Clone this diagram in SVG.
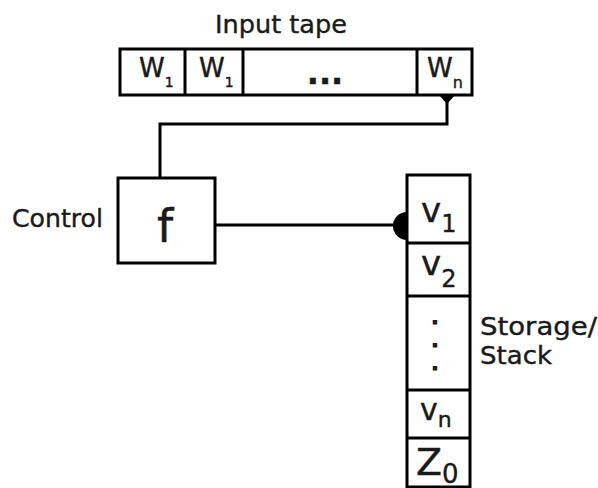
<svg xmlns="http://www.w3.org/2000/svg" width="598" height="488" viewBox="0 0 598 488">
<style>
.box{fill:#fff;stroke:#000;stroke-width:3}
.ln{fill:none;stroke:#000;stroke-width:3}
.t{font-family:"DejaVu Sans",sans-serif;fill:#1a1a1a;stroke:#1a1a1a;stroke-width:0.4}
.dot{font-family:"DejaVu Sans",sans-serif;font-weight:bold;font-size:18px;fill:#1a1a1a;stroke:#1a1a1a;stroke-width:1.2}
</style>
<rect width="598" height="488" fill="#fff"/>
<g id="connectors">
<path class="ln" d="M447,97 V124 H160 V178"/>
<polygon points="439,95 455,95 447,104" fill="#000"/>
<path class="ln" d="M215,225 H400"/>
<path d="M407,212 A14,14 0 0 0 407,240 Z" fill="#000"/>
</g>
<g id="input-tape">
<text class="t" x="281" y="33" font-size="25" text-anchor="middle" textLength="132" lengthAdjust="spacingAndGlyphs">Input tape</text>
<rect class="box" x="120" y="49" width="352" height="46"/>
<path class="ln" d="M185,49 V95 M243,49 V95 M417,49 V95"/>
<text class="t" x="139" y="77" font-size="26">W<tspan font-size="14" dy="10">1</tspan></text>
<text class="t" x="199" y="77" font-size="26">W<tspan font-size="14" dy="10">1</tspan></text>
<text class="t" x="325" y="84" font-size="32" font-weight="bold" text-anchor="middle">...</text>
<text class="t" x="427" y="77" font-size="26">W<tspan font-size="16" dy="11">n</tspan></text>
</g>
<g id="control">
<text class="t" x="12" y="227" font-size="25" textLength="91" lengthAdjust="spacingAndGlyphs">Control</text>
<rect class="box" x="118" y="178" width="97" height="85"/>
<text class="t" x="165" y="242" font-size="46" text-anchor="middle">f</text>
</g>
<g id="stack">
<rect class="box" x="407" y="175" width="63" height="312"/>
<path class="ln" d="M407,243 H470 M407,296 H470 M407,390 H470 M407,438 H470"/>
<text class="t" x="421" y="222" font-size="34">v<tspan font-size="24" dy="10">1</tspan></text>
<text class="t" x="421" y="275" font-size="34">v<tspan font-size="24" dy="12">2</tspan></text>
<text class="dot" x="435" y="324" text-anchor="middle">.</text>
<text class="dot" x="435" y="347" text-anchor="middle">.</text>
<text class="dot" x="435" y="370" text-anchor="middle">.</text>
<text class="t" x="420" y="420" font-size="30">v<tspan font-size="22" dy="7">n</tspan></text>
<text class="t" x="416" y="475" font-size="38">Z<tspan font-size="26" dy="8">0</tspan></text>
<text class="t" x="480" y="335" font-size="25" textLength="117" lengthAdjust="spacingAndGlyphs">Storage/</text>
<text class="t" x="480" y="364" font-size="25" textLength="72" lengthAdjust="spacingAndGlyphs">Stack</text>
</g>
</svg>
